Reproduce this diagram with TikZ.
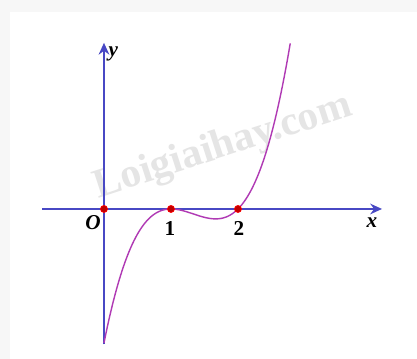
\documentclass[tikz,border=0pt]{standalone}
\usepackage{fontspec}
\setmainfont{Liberation Serif}
\usetikzlibrary{arrows.meta}
\definecolor{axisblue}{RGB}{72,72,196}
\definecolor{curvepurple}{RGB}{176,58,180}
\definecolor{dotred}{RGB}{190,0,0}
\begin{document}
\begin{tikzpicture}[x=1cm, y=1cm,
	axis/.style={draw=axisblue, line width=0.9pt, -{Stealth[length=5pt, width=4.5pt]}},
	lbl/.style={font=\fontsize{9}{10}\selectfont\bfseries, inner sep=0pt},
	dot/.style={circle, fill=dotred, draw=red, line width=0.3pt, inner sep=0pt, minimum size=3pt}]
	\useasboundingbox (-1.552,-2.239) rectangle (4.672,3.119);
	\fill[black!3] (-1.552,-2.239) rectangle (4.672,3.119);
	\fill[white] (-1.403,-2.239) rectangle (4.672,2.940);
	% watermark
	\node[rotate=18, text=black!10, font=\fontsize{17.5}{19}\selectfont\bfseries] (wm) at (1.78,0.92) {Loigiaihay.com};
	% axes
	\coordinate (xl) at (-0.925,0);
	\coordinate (xr) at (4.15,0);
	\coordinate (yb) at (0,-2.02);
	\coordinate (yt) at (0,2.48);
	\draw[axis] (xl) -- (xr);
	\draw[axis] (yb) -- (yt);
	% graph
	\draw[curvepurple, line width=0.6pt, samples=120, smooth, domain=0:2.78] plot (\x, {(\x-1)*(\x-1)*(\x-2)});
	\node[dot] (o) at (0,0) {};
	\node[dot] (p1) at (1,0) {};
	\node[dot] (p2) at (2,0) {};
	\node[lbl] (ly) at (0.14,2.32) {\itshape y};
	\node[lbl] (lx) at (4.0,-0.2) {\itshape x};
	\node[lbl] (lo) at (-0.165,-0.2) {\itshape O};
	\node[lbl] (l1) at (0.985,-0.29) {1};
	\node[lbl] (l2) at (2.015,-0.29) {2};
\end{tikzpicture}
\end{document}
